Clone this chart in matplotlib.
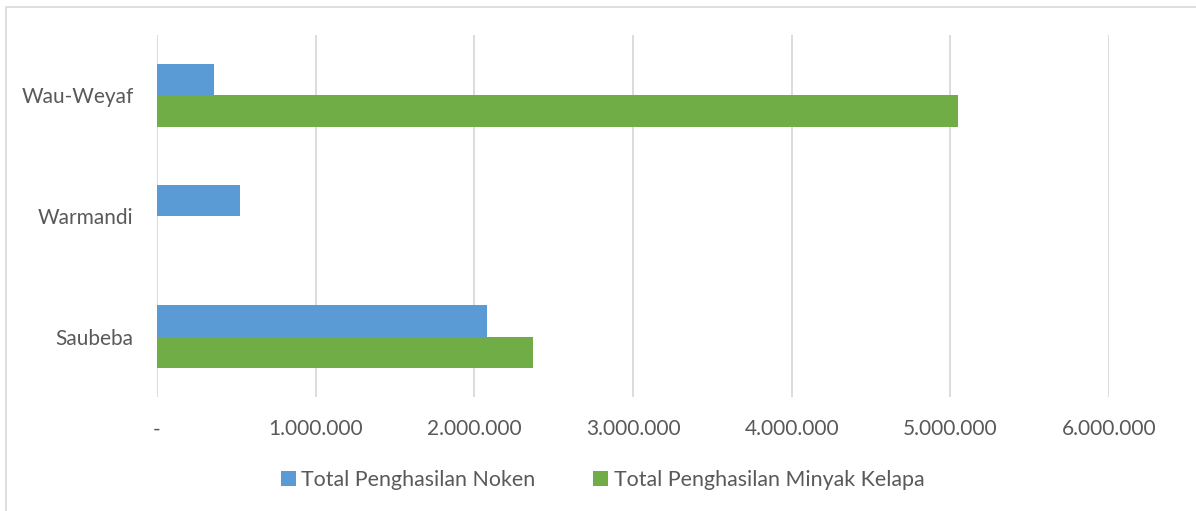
import numpy as np
import matplotlib.pyplot as plt
from matplotlib.patches import Rectangle
from matplotlib.ticker import FuncFormatter

categories = ["Saubeba", "Warmandi", "Wau-Weyaf"]
noken = [2080000, 523000, 357000]
minyak = [2370000, 0, 5050000]
series_names = ["Total Penghasilan Noken", "Total Penghasilan Minyak Kelapa"]
ticks = [0, 1000000, 2000000, 3000000, 4000000, 5000000, 6000000]

plt.rcParams['font.family'] = ['Lato', 'DejaVu Sans']
grey = '#595959'
fs = 15

fig = plt.figure(figsize=(11.96, 5.11), dpi=100)
ax = fig.add_axes([0.1313, 0.2231, 0.796, 0.7084])

# light frame round the chart area
fig.patches.append(Rectangle((6/1196, -0.1), 1.2, 1 - 7/511 + 0.1, transform=fig.transFigure,
                             fill=False, edgecolor='#d9d9d9', linewidth=1.2))

y = np.arange(len(categories))
h = 0.26
ax.barh(y + h/2, noken, height=h, color='#5b9bd5', label=series_names[0], zorder=3)
ax.barh(y - h/2, minyak, height=h, color='#70ad47', label=series_names[1], zorder=3)

ax.set_xlim(0, 6000000)
ax.set_ylim(-0.5, 2.5)
ax.set_xticks(ticks)
ax.xaxis.set_major_formatter(FuncFormatter(lambda v, p: "-" if v == 0 else f"{int(v):,}".replace(",", ".")))
ax.set_yticks(y)
ax.set_yticklabels(categories)
ax.grid(axis='x', color='#d9d9d9', linewidth=1.3, zorder=0)
for s in ax.spines.values():
    s.set_visible(False)
ax.tick_params(axis='both', length=0, labelsize=fs, labelcolor=grey)
ax.tick_params(axis='x', pad=16)
ax.tick_params(axis='y', pad=17)

ax.legend(loc='upper center', bbox_to_anchor=(0.468, -0.148), ncol=2, frameon=False,
          fontsize=15.4, labelcolor=grey, handlelength=0.7, handleheight=0.7,
          handletextpad=0.25, columnspacing=2.7)

plt.savefig('out.png', dpi=100)
